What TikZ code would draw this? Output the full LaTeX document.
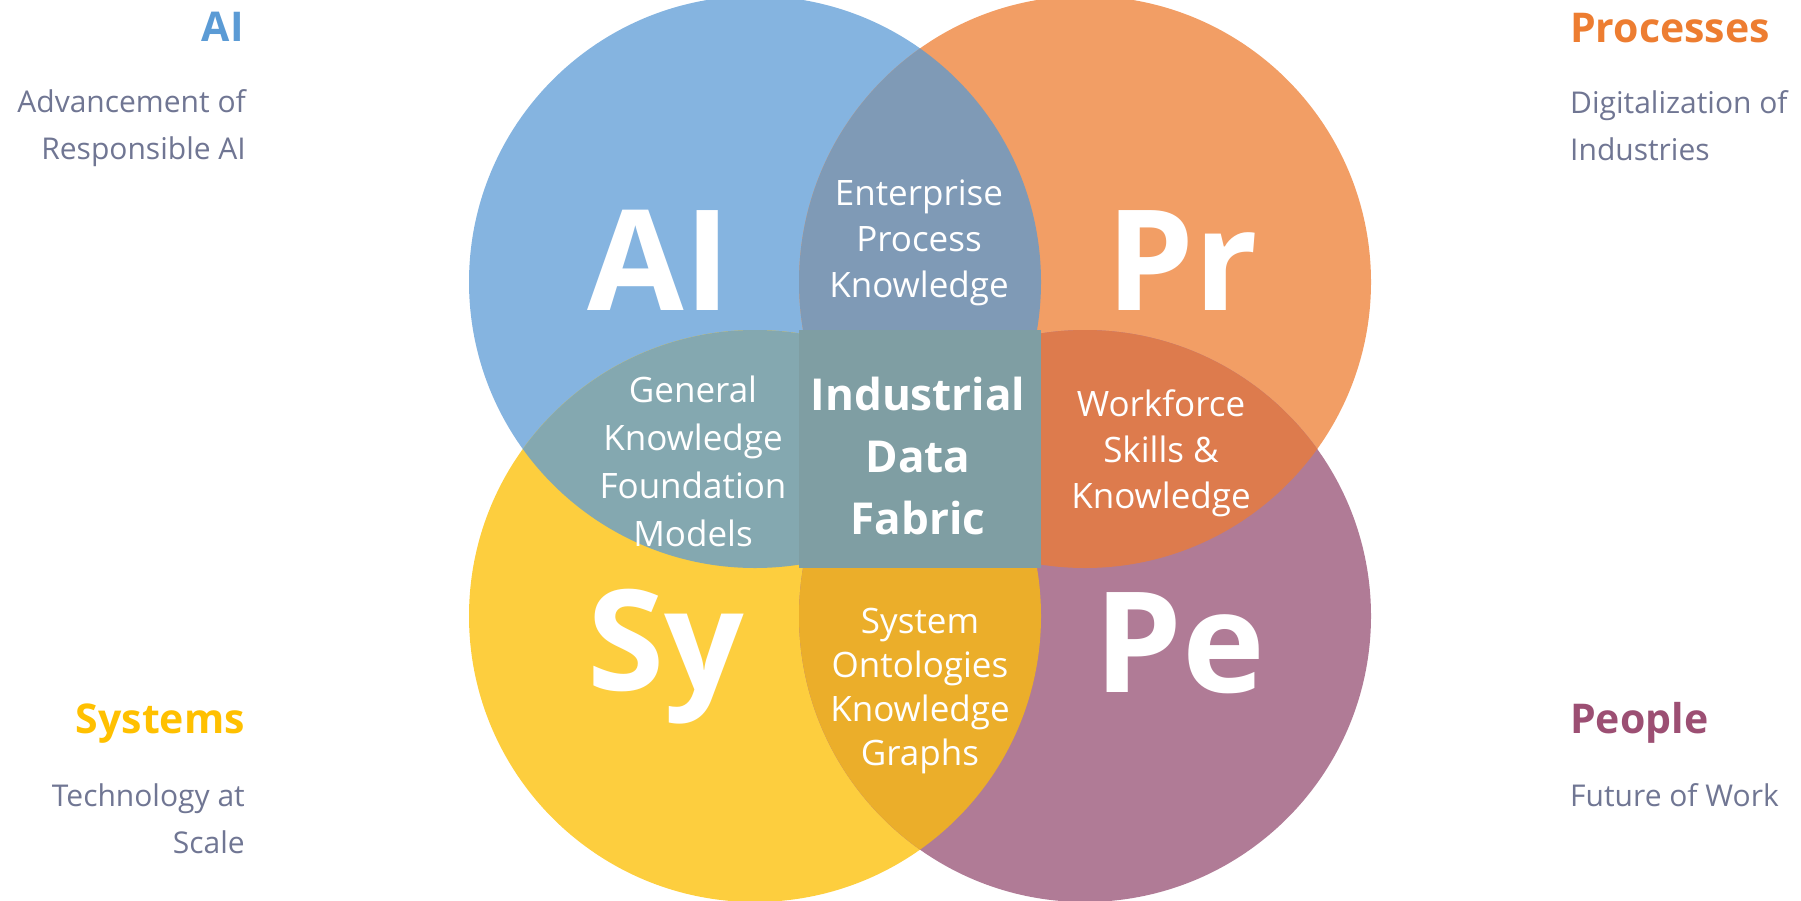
\documentclass[tikz,border=0pt]{standalone}
\usepackage{fontspec}
\setmainfont{Open Sans}
\usetikzlibrary{positioning}

\definecolor{aiblue}{HTML}{85B4E0}
\definecolor{prorange}{HTML}{F29E65}
\definecolor{syyellow}{HTML}{FDCE3E}
\definecolor{pepurple}{HTML}{B07B96}
\definecolor{aipr}{HTML}{7F9AB6}
\definecolor{aisy}{HTML}{84A8B0}
\definecolor{prpe}{HTML}{DD7B4D}
\definecolor{sype}{HTML}{EBAE2A}
\definecolor{fabric}{HTML}{7F9EA3}
\definecolor{aihead}{HTML}{5B9BD5}
\definecolor{prhead}{HTML}{ED7D31}
\definecolor{syhead}{HTML}{FFC000}
\definecolor{pehead}{HTML}{9C4F73}
\definecolor{sidegray}{HTML}{707693}

\begin{document}
\begin{tikzpicture}[x=1pt,y=-1pt,
	big letter/.style={text=white,inner sep=0pt,font=\bfseries\fontsize{140}{140}\selectfont},
	overlap text/.style={text=white,inner sep=0pt,align=center,font=\fontsize{35}{46}\selectfont},
	side head/.style={inner sep=0pt,font=\bfseries\fontsize{41}{41}\selectfont},
	side text/.style={text=sidegray,inner sep=0pt,font=\fontsize{30}{47}\selectfont}]
	\useasboundingbox (0,0) rectangle (1801,900);
	\clip (0,0) rectangle (1801,900);
	\coordinate (ai) at (755,282);
	\coordinate (pr) at (1085,282);
	\coordinate (sy) at (755,616);
	\coordinate (pe) at (1085,616);
	\def\rad{286pt}
	\fill[aiblue] (ai) circle[radius=\rad];
	\fill[prorange] (pr) circle[radius=\rad];
	\fill[syyellow] (sy) circle[radius=\rad];
	\fill[pepurple] (pe) circle[radius=\rad];
	\begin{scope}
		\clip (ai) circle[radius=\rad];
		\fill[aipr] (pr) circle[radius=\rad];
		\fill[aisy] (sy) circle[radius=\rad];
	\end{scope}
	\begin{scope}
		\clip (pe) circle[radius=\rad];
		\fill[prpe] (pr) circle[radius=\rad];
		\fill[sype] (sy) circle[radius=\rad];
	\end{scope}
	\fill[fabric] (799,330) rectangle (1041,568);

	\node[big letter,anchor=base] (ailetter) at (659,310) {AI};
	\node[big letter,anchor=base] (prletter) at (1182,310) {Pr};
	\node[big letter,anchor=base] (syletter) at (666,690) {Sy};
	\node[big letter,anchor=base] (peletter) at (1180,692) {Pe};

	\node[overlap text,anchor=base] (enterprise) at (919,297) {Enterprise\\Process\\Knowledge};
	\node[overlap text,anchor=base,font=\fontsize{35}{48}\selectfont] (general) at (693,546) {General\\Knowledge\\Foundation\\Models};
	\node[overlap text,anchor=base,font=\bfseries\fontsize{44}{62}\selectfont] (fabrictext) at (918,534) {Industrial\\Data\\Fabric};
	\node[overlap text,anchor=base] (workforce) at (1161,508) {Workforce\\Skills \&\\Knowledge};
	\node[overlap text,anchor=base,font=\fontsize{35}{44}\selectfont] (ontologies) at (920,765) {System\\Ontologies\\Knowledge\\Graphs};

	\node[side head,text=aihead,anchor=base east] (aihead) at (244,41) {AI};
	\node[side text,anchor=base east,align=right] (aitext) at (246,159) {Advancement of\\Responsible AI};
	\node[side head,text=prhead,anchor=base west] (prhead) at (1570,42) {Processes};
	\node[side text,anchor=base west,align=left] (prtext) at (1570,160) {Digitalization of\\Industries};
	\node[side head,text=syhead,anchor=base east] (syhead) at (245,733) {Systems};
	\node[side text,anchor=base east,align=right] (sytext) at (245,853) {Technology at\\Scale};
	\node[side head,text=pehead,anchor=base west] (pehead) at (1570,733) {People};
	\node[side text,anchor=base west,align=left] (petext) at (1570,806) {Future of Work};
\end{tikzpicture}
\end{document}
